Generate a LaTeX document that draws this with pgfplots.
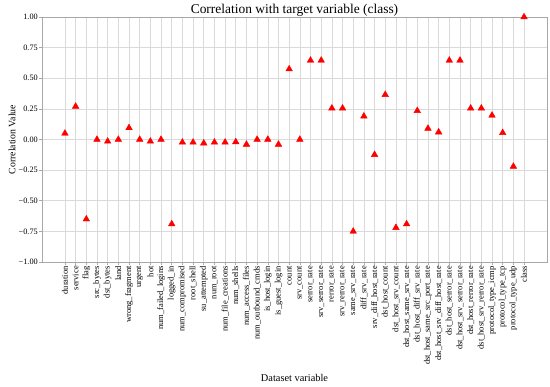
\documentclass[border=0pt]{standalone}
\usepackage{pgfplots}
\pgfplotsset{compat=1.18}
\usepackage{fontspec}
\setmainfont{Liberation Serif}
\definecolor{gridc}{HTML}{DADADA}
\definecolor{spinec}{HTML}{A8A8A8}
\begin{document}
\begin{tikzpicture}
\useasboundingbox (-42bp,-125bp) rectangle (508bp,262bp);
\begin{axis}[
  at={(0,0)}, anchor=south west,
  scale only axis, width=505bp, height=245bp,
  xmin=-2.15, xmax=45.15, ymin=-1, ymax=1,
  xtick={0,...,43},
  xticklabels={duration,service,flag,src\_bytes,dst\_bytes,land,wrong\_fragment,urgent,hot,num\_failed\_logins,logged\_in,num\_compromised,root\_shell,su\_attempted,num\_root,num\_file\_creations,num\_shells,num\_access\_files,num\_outbound\_cmds,is\_host\_login,is\_guest\_login,count,srv\_count,serror\_rate,srv\_serror\_rate,rerror\_rate,srv\_rerror\_rate,same\_srv\_rate,diff\_srv\_rate,srv\_diff\_host\_rate,dst\_host\_count,dst\_host\_srv\_count,dst\_host\_same\_srv\_rate,dst\_host\_diff\_srv\_rate,dst\_host\_same\_src\_port\_rate,dst\_host\_srv\_diff\_host\_rate,dst\_host\_serror\_rate,dst\_host\_srv\_serror\_rate,dst\_host\_rerror\_rate,dst\_host\_srv\_rerror\_rate,protocol\_type\_icmp,protocol\_type\_tcp,protocol\_type\_udp,class},
  xticklabel style={rotate=90, anchor=east, font=\fontsize{8.5}{9}\selectfont, inner sep=1bp},
  ytick={-1,-0.75,-0.5,-0.25,0,0.25,0.5,0.75,1},
  yticklabels={−1.00,−0.75,−0.50,−0.25,0.00,0.25,0.50,0.75,1.00},
  yticklabel style={font=\fontsize{8.3}{9}\selectfont, inner sep=1bp},
  tick align=outside, major tick length=3bp,
  tick style={spinec, line width=0.6bp},
  xtick pos=bottom, ytick pos=left,
  axis line style={spinec, line width=0.8bp},
  grid=major, grid style={gridc, line width=0.6bp},
  every axis title shift=0pt,
  title={Correlation with target variable (class)},
  title style={at={(axis description cs:0.5,1.0286)}, anchor=center, font=\fontsize{13.5}{15}\selectfont},
  xlabel={Dataset variable},
  xlabel style={at={(axis description cs:0.5,-0.473)}, anchor=center, font=\fontsize{10.4}{12}\selectfont},
  ylabel={Correlation Value},
  ylabel style={at={(axis description cs:-0.0594,0.5)}, anchor=center, font=\fontsize{9.8}{11}\selectfont},
]
\addplot[only marks, mark=triangle*, mark size=3.8bp, color=red] coordinates {
(0,0.05) (1,0.27) (2,-0.65) (3,0.00) (4,-0.015) (5,0.00) (6,0.095) (7,0.00) (8,-0.015) (9,0.00)
(10,-0.69) (11,-0.023) (12,-0.023) (13,-0.03) (14,-0.023) (15,-0.023) (16,-0.02) (17,-0.04) (18,0.00) (19,0.00)
(20,-0.04) (21,0.575) (22,0.00) (23,0.646) (24,0.646) (25,0.255) (26,0.255) (27,-0.75) (28,0.19) (29,-0.124)
(30,0.366) (31,-0.72) (32,-0.69) (33,0.235) (34,0.09) (35,0.06) (36,0.646) (37,0.646) (38,0.255) (39,0.255)
(40,0.197) (41,0.055) (42,-0.22) (43,1.00)
};
\end{axis}
\end{tikzpicture}
\end{document}
